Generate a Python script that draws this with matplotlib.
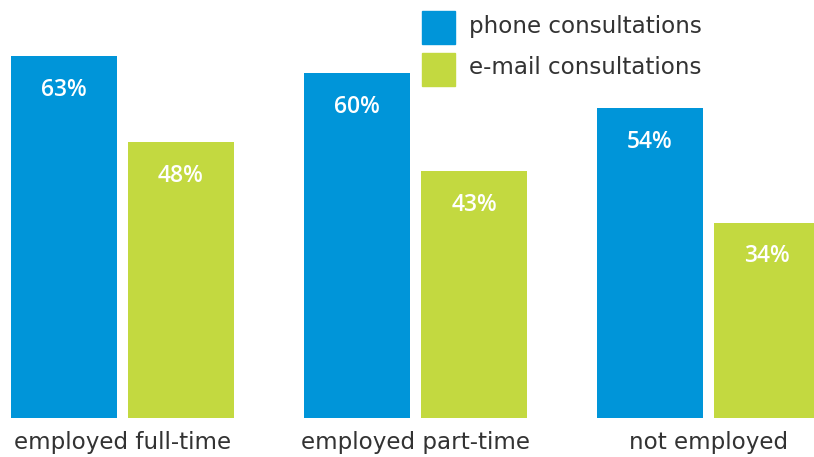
import matplotlib
matplotlib.use("Agg")
import matplotlib.pyplot as plt
import numpy as np

categories = ["employed full-time", "employed part-time", "not employed"]
phone = [63, 60, 54]
email = [48, 43, 34]
series_names = ["phone consultations", "e-mail consultations"]

BLUE = "#0095d9"
GREEN = "#c3d940"
TEXT = "#333333"

W, H = 814, 457
fig = plt.figure(figsize=(W / 100, H / 100), dpi=100)
ax = fig.add_axes([0, 39 / H, 1, 1 - 39 / H])

x = np.arange(len(categories))
width = 0.362
offset = 0.1997
b1 = ax.bar(x - offset, phone, width, color=BLUE)
b2 = ax.bar(x + offset, email, width, color=GREEN)

for bars, vals in ((b1, phone), (b2, email)):
    for rect, v in zip(bars, vals):
        ax.annotate(f"{v}%", (rect.get_x() + rect.get_width() / 2, v),
                    xytext=(0, -34), textcoords="offset pixels",
                    ha="center", va="center", color="white",
                    fontsize=16.5, fontweight="semibold", family="Open Sans")

ax.set_xlim(-0.418, 2.360)
ax.set_ylim(0, 418 / 5.75)
ax.axis("off")

# category labels below the bars
for xi, name in zip(x, categories):
    fig.text((122.5 + 293 * xi) / W, 1 - 443 / H, name, ha="center", va="center",
             fontsize=16.6, color=TEXT, family="DejaVu Sans")

# legend
for i, (name, col) in enumerate(zip(series_names, [BLUE, GREEN])):
    top = 11 + 42 * i
    fig.patches.append(plt.Rectangle((422 / W, 1 - (top + 33) / H), 33 / W, 33 / H,
                                     transform=fig.transFigure, color=col))
    fig.text(469 / W, 1 - (top + 15) / H, name, ha="left", va="center",
             fontsize=16.6, color=TEXT, family="DejaVu Sans")

fig.savefig("out.png", dpi=100)
